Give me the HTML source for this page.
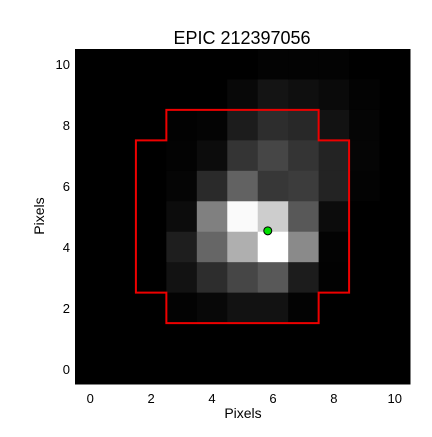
<!DOCTYPE html>
<html><head><meta charset="utf-8"><style>
body{margin:0;background:#fff;}
svg text{font-family:"Liberation Sans",sans-serif;}
</style></head><body>
<svg id="chart" width="432" height="432" xmlns="http://www.w3.org/2000/svg">
<text x="242" y="44" font-size="18" text-anchor="middle">EPIC 212397056</text>
<g id="cells"></g>
<g id="ticks"></g>
<text x="243" y="418" font-size="14" text-anchor="middle">Pixels</text>
<text x="44" y="216" font-size="14" text-anchor="middle" transform="rotate(-90 44 216)">Pixels</text>
</svg>
<script>
const rowsTopDown = [
 [0,0,0,0,0,0,3,3,3,0,0],
 [0,0,0,0,0,8,20,15,10,3,0],
 [0,0,0,2,4,28,45,40,18,5,0],
 [0,0,0,3,12,52,70,52,35,5,0],
 [0,0,0,5,42,98,55,60,35,3,0],
 [0,0,0,12,128,250,205,88,12,0,0],
 [0,0,0,30,102,175,255,138,3,0,0],
 [0,0,0,18,45,70,88,28,2,0,0],
 [0,0,0,3,8,18,18,3,0,0,0],
 [0,0,0,0,0,0,0,0,0,0,0],
 [0,0,0,0,0,0,0,0,0,0,0]
];
const tickValues = [0,2,4,6,8,10];
const apertureX = [2.5,7.5,7.5,8.5,8.5,7.5,7.5,2.5,2.5,1.5,1.5,2.5];
const apertureY = [8.5,8.5,7.5,7.5,2.5,2.5,1.5,1.5,2.5,2.5,7.5,7.5];
const centroid = [5.83,4.53];
const L=75,R=410,T=49,B=384;
const sx=v=>L+(v+0.5)*(R-L)/11;
const sy=v=>B-(v+0.5)*(B-T)/11;
const NS="http://www.w3.org/2000/svg";
const svg=document.getElementById('chart');
const cells=document.getElementById('cells');
const n=rowsTopDown.length;
rowsTopDown.forEach((row,ri)=>{
  const yv=n-1-ri;
  row.forEach((g,xv)=>{
    const r=document.createElementNS(NS,'rect');
    
    
    r.setAttribute('x',sx(xv-0.5));r.setAttribute('y',sy(yv+0.5));
    r.setAttribute('width',sx(xv+0.5)-sx(xv-0.5)+0.5);
    r.setAttribute('height',sy(yv-0.5)-sy(yv+0.5)+0.5);
    r.setAttribute('fill',`rgb(${g},${g},${g})`);
    cells.appendChild(r);
  });
});
const ap=document.createElementNS(NS,'polygon');


ap.setAttribute('points',apertureX.map((x,i)=>sx(x)+','+sy(apertureY[i])).join(' '));
ap.setAttribute('fill','none');ap.setAttribute('stroke','#e00');ap.setAttribute('stroke-width','2');
svg.appendChild(ap);
const c=document.createElementNS(NS,'circle');


c.setAttribute('cx',sx(centroid[0]));c.setAttribute('cy',sy(centroid[1]));c.setAttribute('r','4');
c.setAttribute('fill','#00e000');c.setAttribute('stroke','#000');c.setAttribute('stroke-width','1');
svg.appendChild(c);
const tk=document.getElementById('ticks');
tickValues.forEach(v=>{
  const t=document.createElementNS(NS,'text');
  
  
  t.setAttribute('x',sx(v));t.setAttribute('y',403);t.setAttribute('font-size','13');t.setAttribute('text-anchor','middle');
  t.textContent=v;tk.appendChild(t);
  const u=document.createElementNS(NS,'text');
  
  
  u.setAttribute('x',70);u.setAttribute('y',sy(v)+5);u.setAttribute('font-size','13');u.setAttribute('text-anchor','end');
  u.textContent=v;tk.appendChild(u);
});
</script>
</body></html>
